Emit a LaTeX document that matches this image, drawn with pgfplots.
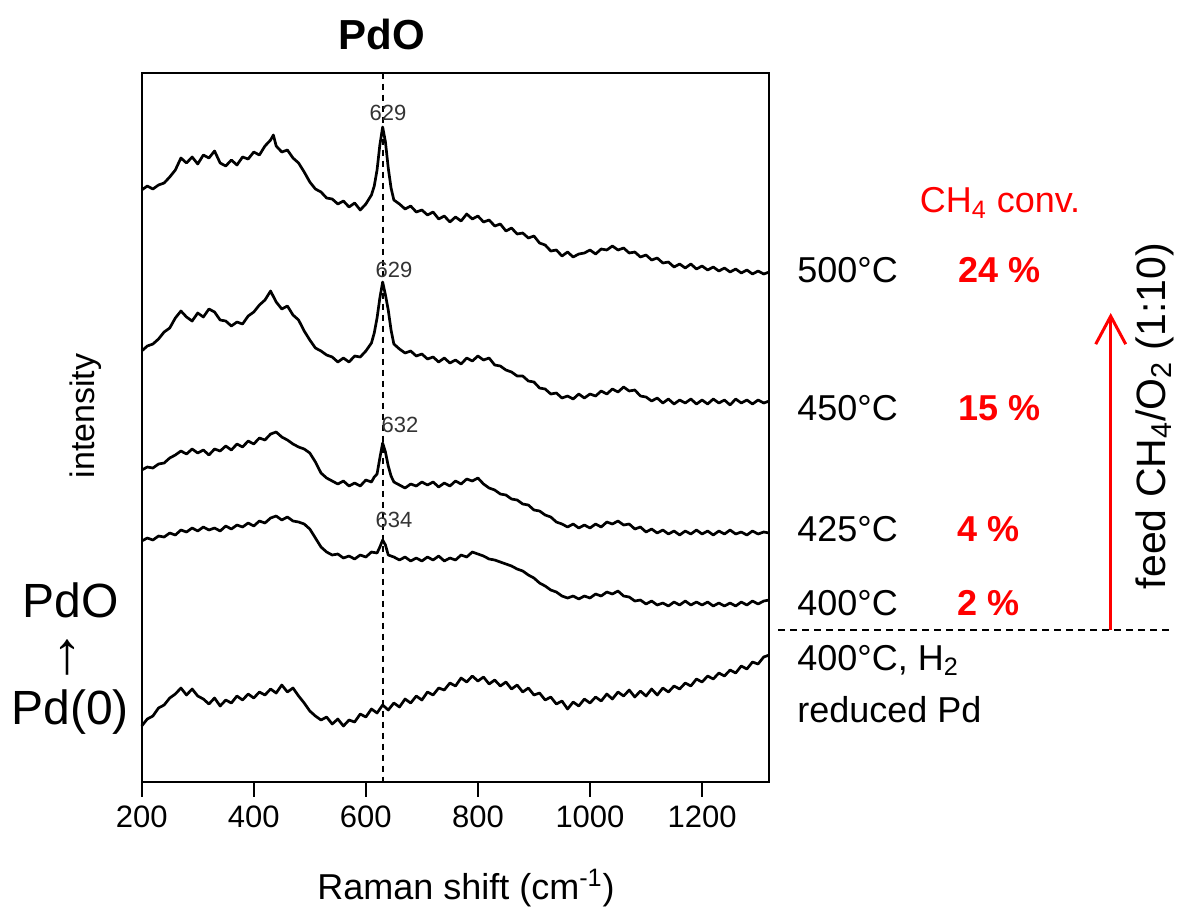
\documentclass[border=0pt]{standalone}
\usepackage{pgfplots}
\pgfplotsset{compat=1.18}
\usepackage{fontspec}
\setmainfont{Liberation Sans}
\usetikzlibrary{arrows.meta}
\begin{document}
\begin{tikzpicture}
\useasboundingbox (0,0) rectangle (589pt,-454.5pt);
\begin{axis}[
  at={(70.85pt,-390.85pt)}, anchor=south west,
  width=313.8pt, height=354.5pt, scale only axis,
  xmin=200, xmax=1320, ymin=72.7, ymax=781.7, y dir=reverse,
  axis line style={line width=1pt},
  xtick={200,400,600,800,1000,1200}, xtick pos=bottom, tick align=outside,
  major tick length=7.5pt, ytick=\empty,
  tick style={line width=1pt, black},
  xticklabel style={font=\fontsize{15.5}{18}\selectfont, yshift=-1pt},
  /pgf/number format/assume math mode=true,
  /pgf/number format/1000 sep={},
  clip=false,
]
% 500 C
\addplot[black, line width=1.35pt, line join=round] table {
200 190
210 186
220 189
230 185
240 183
250 177
260 170
270 158
280 163
290 157
300 164
310 155
320 158
330 151
340 163
350 166
360 160
370 165
380 157
390 159
400 152
410 155
420 146
430 140
435 135
440 146
450 152
460 150
470 158
480 163
490 172
500 182
510 189
520 192
530 198
540 199
550 204
560 201
570 207
580 203
590 210
600 204
610 195
615 186
620 170
625 145
630 127
635 142
640 168
645 188
650 200
660 204
670 209
680 206
690 212
700 210
710 215
720 212
730 219
740 216
750 222
760 217
770 221
780 214
790 219
800 216
810 222
820 220
830 226
840 224
850 231
860 228
870 234
880 233
890 238
900 236
910 243
920 245
930 251
940 250
950 256
960 252
970 257
980 254
990 253
1000 250
1010 254
1020 249
1030 250
1040 246
1050 250
1060 248
1070 253
1080 252
1090 257
1100 255
1110 260
1120 258
1130 263
1140 262
1150 267
1160 264
1170 268
1180 264
1190 269
1200 266
1210 270
1220 267
1230 271
1240 268
1250 272
1260 269
1270 273
1280 270
1290 274
1300 271
1310 274
1320 272
};
% 450 C
\addplot[black, line width=1.35pt, line join=round] table {
200 351
210 346
220 344
230 339
240 332
250 328
260 318
270 311
280 317
290 321
300 313
310 317
320 309
330 312
340 320
350 321
360 326
370 322
380 324
390 316
400 312
410 305
420 300
430 291
440 302
450 309
460 306
470 315
480 320
490 331
500 340
510 348
520 351
530 355
540 357
550 362
560 358
570 362
580 356
590 357
600 351
610 343
615 333
620 318
625 298
630 282
635 295
640 310
645 330
650 344
660 349
670 353
680 351
690 356
700 354
710 359
720 357
730 362
740 358
750 363
760 360
770 364
780 358
790 361
800 356
810 360
820 358
830 365
840 366
850 370
860 372
870 376
880 376
890 381
900 382
910 388
920 389
930 394
940 393
950 398
960 396
970 399
980 394
990 398
1000 394
1010 396
1020 391
1030 394
1040 389
1050 392
1060 387
1070 391
1080 390
1090 396
1100 397
1110 401
1120 398
1130 403
1140 399
1150 404
1160 400
1170 403
1180 399
1190 404
1200 400
1210 404
1220 399
1230 403
1240 400
1250 405
1260 399
1270 403
1280 400
1290 404
1300 400
1310 403
1320 401
};
% 425 C
\addplot[black, line width=1.35pt, line join=round] table {
200 470
210 467
220 468
230 464
240 463
250 458
260 455
270 451
280 454
290 449
300 453
310 450
320 455
330 449
340 451
350 446
360 450
370 444
380 447
390 441
400 444
410 438
420 440
430 434
440 432
450 437
460 440
470 444
480 447
490 449
500 453
510 462
520 473
530 478
540 481
550 484
560 481
570 486
580 483
590 486
600 480
610 482
615 477
620 474
625 458
630 443
635 452
640 466
645 476
650 482
660 485
670 488
680 484
690 486
700 482
710 485
720 482
730 487
740 483
750 486
760 481
770 484
780 479
790 481
800 478
810 484
820 488
830 490
840 494
850 495
860 499
870 500
880 504
890 505
900 510
910 511
920 515
930 517
940 522
950 524
960 527
970 524
980 528
990 525
1000 528
1010 524
1020 527
1030 522
1040 524
1050 521
1060 525
1070 524
1080 529
1090 527
1100 532
1110 529
1120 533
1130 530
1140 534
1150 531
1160 535
1170 531
1180 534
1190 530
1200 534
1210 531
1220 535
1230 531
1240 534
1250 530
1260 534
1270 532
1280 535
1290 531
1300 534
1310 532
1320 533
};
% 400 C
\addplot[black, line width=1.35pt, line join=round] table {
200 541
210 538
220 540
230 536
240 537
250 533
260 535
270 530
280 532
290 528
300 531
310 527
320 530
330 528
340 531
350 526
360 529
370 525
380 527
390 523
400 526
410 521
420 523
430 518
440 516
450 520
460 517
470 521
480 522
490 524
500 529
510 538
520 547
530 552
540 555
550 554
560 558
570 556
580 559
590 555
600 557
610 552
620 553
625 547
630 540
635 545
640 555
650 557
660 560
670 557
680 561
690 558
700 561
710 557
720 560
730 556
740 561
750 558
760 560
770 555
780 557
790 552
800 554
810 556
820 559
830 560
840 562
850 564
860 566
870 569
880 571
890 575
900 578
910 583
920 586
930 590
940 592
950 596
960 598
970 596
980 599
990 596
1000 598
1010 594
1020 596
1030 592
1040 594
1050 591
1060 596
1070 597
1080 601
1090 600
1100 604
1110 601
1120 605
1130 603
1140 606
1150 602
1160 605
1170 601
1180 605
1190 602
1200 605
1210 602
1220 606
1230 603
1240 606
1250 603
1260 606
1270 602
1280 605
1290 601
1300 604
1310 601
1320 600
};
% 400 C, H2 reduced
\addplot[black, line width=1.35pt, line join=round] table {
200 726
210 719
220 716
230 708
240 705
250 698
260 694
270 688
280 695
290 689
300 696
310 699
320 704
330 698
340 706
350 700
360 703
370 696
380 700
390 694
400 698
410 692
420 695
430 689
440 693
450 685
460 692
470 688
480 696
490 703
500 711
510 716
520 720
530 717
540 724
550 719
560 726
570 720
580 722
590 714
600 717
610 709
620 713
630 705
640 710
650 703
660 707
670 699
680 703
690 696
700 700
710 692
720 695
730 688
740 690
750 683
760 686
770 678
780 682
790 676
800 681
810 677
820 684
830 680
840 686
850 682
860 689
870 685
880 692
890 688
900 695
910 693
920 700
930 697
940 704
950 701
960 709
970 702
980 706
990 699
1000 703
1010 697
1020 701
1030 694
1040 699
1050 692
1060 696
1070 690
1080 697
1090 691
1100 696
1110 689
1120 695
1130 688
1140 692
1150 686
1160 689
1170 683
1180 686
1190 679
1200 682
1210 676
1220 679
1230 673
1240 676
1250 670
1260 673
1270 666
1280 669
1290 662
1300 664
1310 657
1320 655
};
\draw[black, line width=0.8pt, dash pattern=on 3pt off 2.5pt]
  (axis cs:631,72.7) -- (axis cs:631,781.7);
\end{axis}
\begin{scope}[x=0.5pt,y=-0.5pt]
  \node[font=\bfseries\fontsize{21}{24}\selectfont] at (382,34) {PdO};
  \node[font=\fontsize{17}{20}\selectfont, rotate=90] at (86,416) {intensity};
  \node[font=\fontsize{24}{28}\selectfont] at (71,600) {PdO};
  \node[font=\fontsize{30}{34}\selectfont] at (68,658) {↑};
  \node[font=\fontsize{24}{28}\selectfont] at (70,712) {Pd(0)};
  \node[font=\fontsize{18}{21}\selectfont] at (466,888) {Raman shift (cm\textsuperscript{-1})};
  % peak labels
  \begin{scope}[font=\fontsize{11}{13}\selectfont, text=black!80]
    \node at (388,113) {629};
    \node at (394,270) {629};
    \node at (400,425) {632};
    \node at (394,520) {634};
  \end{scope}
  % right side
  \begin{scope}[font=\fontsize{18}{21}\selectfont, inner sep=0pt]
    \node[anchor=base, text=red] at (1000,213) {CH\textsubscript{4} conv.};
    \node[anchor=base west] at (797,283) {500°C};
    \node[anchor=base west] at (797,420) {450°C};
    \node[anchor=base west] at (797,541) {425°C};
    \node[anchor=base west] at (797,615) {400°C};
    \node[anchor=base west] at (797,670) {400°C, H\textsubscript{2}};
    \node[anchor=base west] at (797,722) {reduced Pd};
    \node[anchor=base west, text=red, font=\bfseries\fontsize{18}{21}\selectfont] at (958,283) {24 \%};
    \node[anchor=base west, text=red, font=\bfseries\fontsize{18}{21}\selectfont] at (958,420) {15 \%};
    \node[anchor=base west, text=red, font=\bfseries\fontsize{18}{21}\selectfont] at (957,541) {4 \%};
    \node[anchor=base west, text=red, font=\bfseries\fontsize{18}{21}\selectfont] at (957,615) {2 \%};
  \end{scope}
  \draw[black, line width=1pt, dash pattern=on 3.5pt off 2.5pt] (778,630) -- (1170,630);
  \draw[red, line width=1.5pt, -{Straight Barb[length=14pt,width=15pt,line width=1.5pt]}] (1110.7,630) -- (1110.7,313);
  \node[font=\fontsize{20.5}{24}\selectfont, rotate=90] at (1155,416) {feed CH\textsubscript{4}/O\textsubscript{2} (1:10)};
\end{scope}
\end{tikzpicture}
\end{document}
